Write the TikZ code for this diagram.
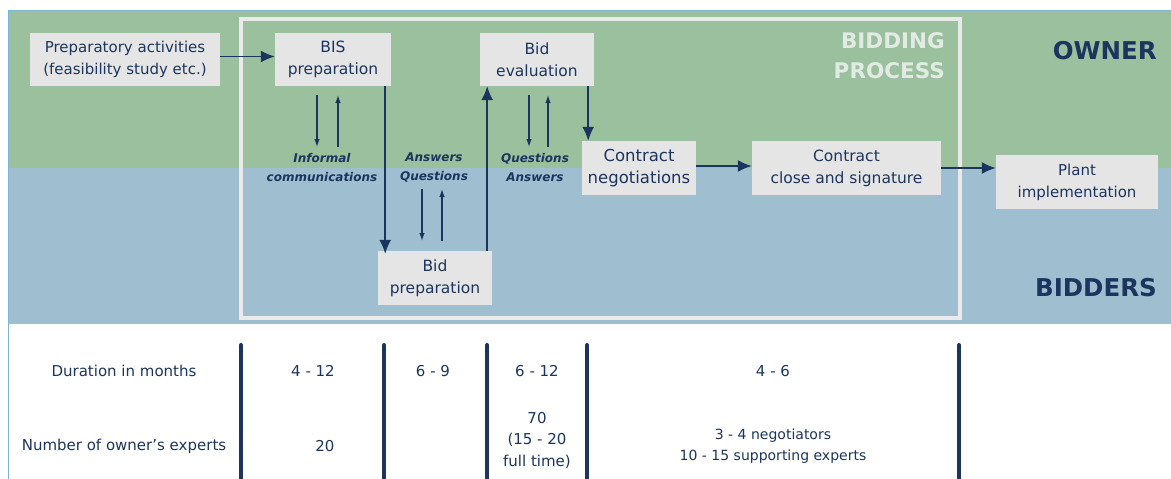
\documentclass[tikz,border=0pt]{standalone}
\usepackage{fontspec}
\setmainfont{DejaVu Sans}
\usetikzlibrary{arrows.meta,calc}
\definecolor{navy}{RGB}{28,53,94}
\definecolor{bandgreen}{RGB}{155,192,158}
\definecolor{bandblue}{RGB}{159,191,208}
\definecolor{boxgray}{RGB}{229,229,229}
\definecolor{framegray}{RGB}{234,234,234}
\definecolor{titlegray}{RGB}{226,234,228}
\definecolor{edgeblue}{RGB}{130,180,215}
\tikzset{
  stagebox/.style={fill=boxgray, draw=none, align=center, inner sep=0pt, text=navy, font=\fontsize{15.5}{22}\selectfont},
  bigarrow/.style={draw=navy, line width=1.6pt, -{Latex[length=14pt,width=12pt]}},
  smallarrow/.style={draw=navy, line width=1.2pt, -{Latex[length=8pt,width=5.5pt]}},
  commlabel/.style={text=navy, font=\fontsize{12}{19}\selectfont\bfseries\itshape, align=center, inner sep=0pt},
  tabletext/.style={text=navy, font=\fontsize{15}{21.5}\selectfont, align=center, inner sep=0pt},
  tableline/.style={draw=navy, line width=4pt, line cap=round},
  sidelabel/.style={text=navy, font=\fontsize{24.5}{28}\selectfont\bfseries, inner sep=0pt},
}
\begin{document}
\begin{tikzpicture}[x=1pt,y=-1pt]
\useasboundingbox (0,0) rectangle (1171,479);
\fill[white] (0,0) rectangle (1171,479);
% bands
\fill[bandgreen] (9,11) rectangle (1171,168);
\fill[bandblue] (9,168) rectangle (1171,324);
\draw[edgeblue, line width=1pt] (8,479) -- (8,10) -- (1171,10);
% frame
\draw[framegray, line width=4pt] (241,19) rectangle (960,318);
\node[text=titlegray, font=\fontsize{21.5}{30}\selectfont\bfseries, align=right, anchor=north east, inner sep=0pt] (title) at (945,32) {BIDDING\\PROCESS};
\node[sidelabel, anchor=east] (owner) at (1157,51) {OWNER};
\node[sidelabel, anchor=east] (bidders) at (1157,288) {BIDDERS};
% stage boxes
\node[stagebox, minimum width=190pt, minimum height=53pt, font=\fontsize{15}{22}\selectfont] (prep) at (125,59.5) {Preparatory activities\\(feasibility study etc.)};
\node[stagebox, minimum width=116pt, minimum height=53pt] (bis) at (333,59.5) {BIS\\preparation};
\node[stagebox, minimum width=114pt, minimum height=53pt] (eval) at (537,59.5) {Bid\\evaluation};
\node[stagebox, minimum width=114pt, minimum height=54pt, font=\fontsize{16.5}{22}\selectfont] (neg) at (639,168) {Contract\\negotiations};
\node[stagebox, minimum width=189pt, minimum height=54pt] (close) at (846.5,168) {Contract\\close and signature};
\node[stagebox, minimum width=162pt, minimum height=54pt, font=\fontsize{15}{22}\selectfont] (plant) at (1077,182) {Plant\\implementation};
\node[stagebox, minimum width=114pt, minimum height=54pt] (bidprep) at (435,278) {Bid\\preparation};
% main arrows
\draw[bigarrow] ([yshift=3pt]prep.east) -- ([yshift=3pt]bis.west);
\draw[bigarrow] ([xshift=-6pt]bis.south east) -- ([xshift=-6pt,yshift=-3pt]bis.south east |- bidprep.north);
\draw[bigarrow] ([xshift=-5pt]bidprep.north east) -- ([xshift=-5pt]bidprep.north east |- eval.south);
\draw[bigarrow] ([xshift=-6pt]eval.south east) -- ([xshift=-6pt]eval.south east |- neg.north);
\draw[bigarrow] ([yshift=2pt]neg.east) -- ([yshift=2pt]close.west);
\draw[bigarrow] (close.east) -- (close.east -| plant.west);
% informal communications
\coordinate (ic1a) at (317,95); \coordinate (ic1b) at (317,147);
\coordinate (ic2a) at (338,147); \coordinate (ic2b) at (338,95);
\draw[smallarrow] (ic1a) -- (ic1b);
\draw[smallarrow] (ic2a) -- (ic2b);
\node[commlabel] (icl) at (322,168) {Informal\\communications};
% answers questions (bidders)
\coordinate (aq1a) at (422,189); \coordinate (aq1b) at (422,241);
\coordinate (aq2a) at (442,241); \coordinate (aq2b) at (442,189);
\draw[smallarrow] (aq1a) -- (aq1b);
\draw[smallarrow] (aq2a) -- (aq2b);
\node[commlabel] (aql) at (434,168) {Answers\\Questions};
% questions answers (owner)
\coordinate (qa1a) at (529,95); \coordinate (qa1b) at (529,147);
\coordinate (qa2a) at (548,147); \coordinate (qa2b) at (548,95);
\draw[smallarrow] (qa1a) -- (qa1b);
\draw[smallarrow] (qa2a) -- (qa2b);
\node[commlabel] (qal) at (535,168) {Questions\\Answers};
% table
\foreach \x/\n in {241/l1,384/l2,487/l3,587/l4,959/l5}{
  \coordinate (\n t) at (\x,345); \coordinate (\n b) at (\x,482);
  \draw[tableline] (\n t) -- (\n b);
}
\node[tabletext] (dur) at (124,371) {Duration in months};
\node[tabletext] (d1) at (313,371) {4 - 12};
\node[tabletext] (d2) at (433,371) {6 - 9};
\node[tabletext] (d3) at (537,371) {6 - 12};
\node[tabletext] (d4) at (773,371) {4 - 6};
\node[tabletext] (num) at (124,446) {Number of owner's experts};
\node[tabletext] (n1) at (325,446) {20};
\node[tabletext] (n3) at (537,440) {70\\(15 - 20\\full time)};
\node[tabletext, font=\fontsize{14}{21}\selectfont] (n4) at (773,446.5) {3 - 4 negotiators\\10 - 15 supporting experts};
\end{tikzpicture}
\end{document}
